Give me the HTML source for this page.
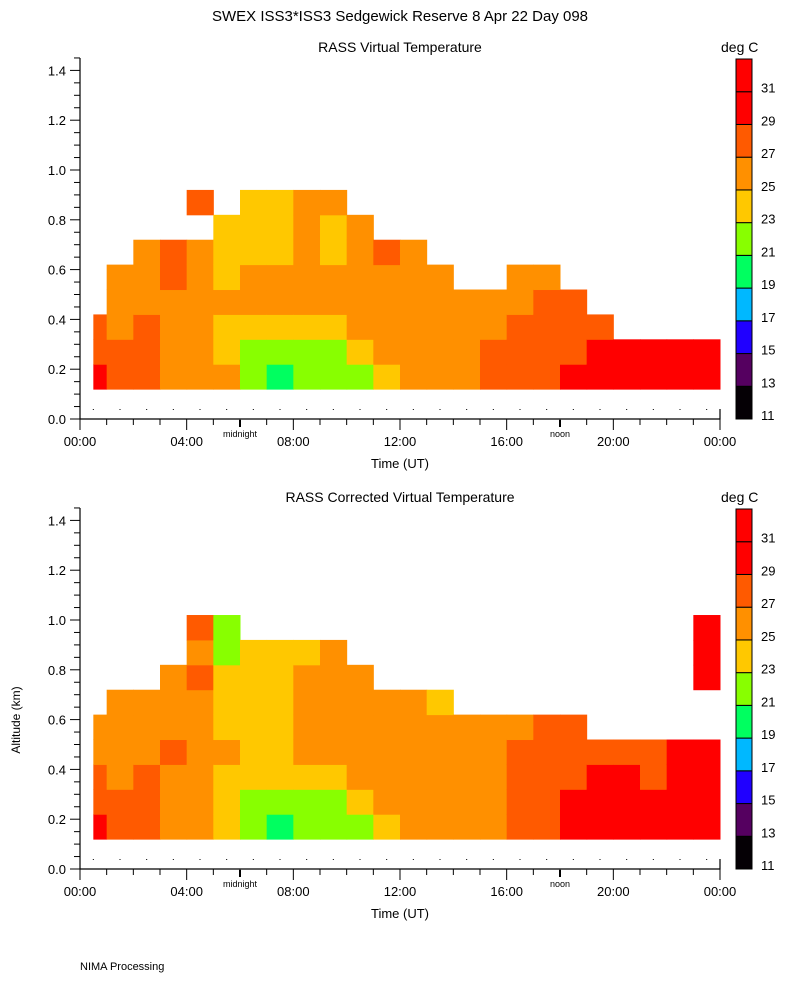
<!DOCTYPE html>
<html><head><meta charset="utf-8">
<style>
body{margin:0;background:#fff;}
svg text{font-family:"Liberation Sans",sans-serif;fill:#000;}
</style></head>
<body>
<svg id="chart" width="800" height="1000" xmlns="http://www.w3.org/2000/svg">
<text x="400" y="21" font-size="15" text-anchor="middle">SWEX ISS3*ISS3 Sedgewick Reserve    8 Apr 22 Day 098</text>
<text x="20" y="720" font-size="12" text-anchor="middle" transform="rotate(-90 20 720)">Altitude (km)</text>
<text x="80" y="970" font-size="11">NIMA Processing</text>
</svg>
<script>
const levelBounds=[11,13,15,17,19,21,23,25,27,29,31];
const levelColors=["#050005","#550060","#2000ff","#00b8ff","#00ff60","#88ff00","#ffc800","#ff9000","#ff5a00","#ff0000","#ff0000"];
const yTicks=[0,0.2,0.4,0.6,0.8,1.0,1.2,1.4];
const yTickLabels=["0.0","0.2","0.4","0.6","0.8","1.0","1.2","1.4"];
const xTicks=[0,4,8,12,16,20,24];
const xTickLabels=["00:00","04:00","08:00","12:00","16:00","20:00","00:00"];
const rowBase=0.12, rowStep=0.1;
const topGrid=[
[30,28,28],[28,28,26,26,26],[28,28,28,26,26,26],[26,26,26,26,28,28],
[26,26,26,26,26,26,0,28],[26,24,24,26,24,24,24],[22,22,24,26,26,24,24,24],[20,22,24,26,26,24,24,24],
[22,22,24,26,26,26,26,26],[22,22,24,26,26,24,24,26],[22,24,26,26,26,26,26],[24,26,26,26,26,28],
[26,26,26,26,26,26],[26,26,26,26,26],[26,26,26,26],[28,28,26,26],
[28,28,28,26,26],[28,28,28,28,26],[30,28,28,28],[30,30,28],
[30,30],[30,30],[30,30],[30,30]];
const bottomGrid=[
[30,28,28,26,26],[28,28,26,26,26,26],[28,28,28,26,26,26],[26,26,26,28,26,26,26],
[26,26,26,26,26,26,28,26,28],[24,24,24,26,24,24,24,22,22],[22,22,24,24,24,24,24,24],[20,22,24,24,24,24,24,24],
[22,22,24,26,26,26,26,24],[22,22,24,26,26,26,26,26],[22,24,26,26,26,26,26],[24,26,26,26,26,26],
[26,26,26,26,26,26],[26,26,26,26,26,24],[26,26,26,26,26],[26,26,26,26,26],
[28,28,28,28,26],[28,28,28,28,28],[30,30,28,28,28],[30,30,30,28],
[30,30,30,28],[30,30,28,28],[30,30,30,30],[30,30,30,30,0,0,30,30,30]];
const NS="http://www.w3.org/2000/svg";
const svg=document.getElementById('chart');
function mk(tag,attrs,parent){const e=document.createElementNS(NS,tag);for(const k in attrs)e.setAttribute(k,attrs[k]);(parent||svg).appendChild(e);return e;}
function colorFor(v){let i=0;for(let k=0;k<levelBounds.length;k++){if(v>=levelBounds[k])i=k;}return levelColors[i];}
function drawPanel(grid,dy,title,nm){
  const xs=h=>80+h*640/24, ys=a=>419+dy-a*249;
  const g=mk('g',{});
  
  
  const t=mk('text',{x:400,y:52+dy,'font-size':14,'text-anchor':'middle'},g);t.textContent=title;
  
  
  grid.forEach((col,ci)=>{col.forEach((v,ri)=>{if(!v)return;
    const h0=ci===0?0.5:ci, h1=ci+1;
    const a0=rowBase+ri*rowStep,a1=a0+rowStep;
    const r=mk('rect',{x:xs(h0),y:ys(a1),width:xs(h1)-xs(h0)+0.5,height:ys(a0)-ys(a1)+0.5,fill:colorFor(v)},g);
    
    
  });});
  const ax=mk('path',{d:`M80 ${ys(0)-361}V${ys(0)}H720V${ys(0)-10}`,stroke:'#000',fill:'none','stroke-width':1.2},g);
  
  
  for(let k=0;k<=29;k++){const a=k*0.05;const maj=k%4===0;mk('line',{x1:maj?70:74,x2:80,y1:ys(a),y2:ys(a),stroke:'#000'},g);}
  yTicks.forEach((a,i)=>{const tx=mk('text',{x:66,y:ys(a)+5,'font-size':13,'text-anchor':'end'},g);tx.textContent=yTickLabels[i];
    
    });
  for(let h=0;h<=24;h++){const maj=h%4===0;mk('line',{x1:xs(h),x2:xs(h),y1:ys(0),y2:ys(0)+(maj?11:6),stroke:'#000'},g);
    if(h<24)mk('rect',{x:xs(h+0.5)-0.5,y:ys(0)-10,width:1,height:1,fill:'#000'},g);}
  xTicks.forEach((h,i)=>{const tx=mk('text',{x:xs(h),y:ys(0)+27,'font-size':13,'text-anchor':'middle'},g);tx.textContent=xTickLabels[i];
    
    });
  [[6,'midnight'],[18,'noon']].forEach(([h,l])=>{mk('rect',{x:xs(h)-1,y:ys(0)+1,width:2,height:7,fill:'#000'},g);
    const tx=mk('text',{x:xs(h),y:ys(0)+18,'font-size':9,'text-anchor':'middle'},g);tx.textContent=l;
    
    });
  const xt=mk('text',{x:400,y:ys(0)+49,'font-size':13,'text-anchor':'middle'},g);xt.textContent='Time (UT)';
  
  
  const cbTop=59+dy,cbBot=419+dy,seg=(cbBot-cbTop)/levelColors.length;
  levelColors.forEach((c,i)=>{const r=mk('rect',{x:736,y:cbBot-(i+1)*seg,width:16,height:seg,fill:c,stroke:'#000','stroke-width':1},g);
    
    });
  levelBounds.forEach((b,i)=>{const tx=mk('text',{x:761,y:cbBot-i*seg+1,'font-size':13},g);
    tx.textContent=b;
    
    });
  const u=mk('text',{x:721,y:52+dy,'font-size':14},g);u.textContent='deg  C';
  
  
}
drawPanel(topGrid,0,'RASS Virtual Temperature','top-panel');
drawPanel(bottomGrid,450,'RASS Corrected Virtual Temperature','bottom-panel');
</script>
</body></html>
